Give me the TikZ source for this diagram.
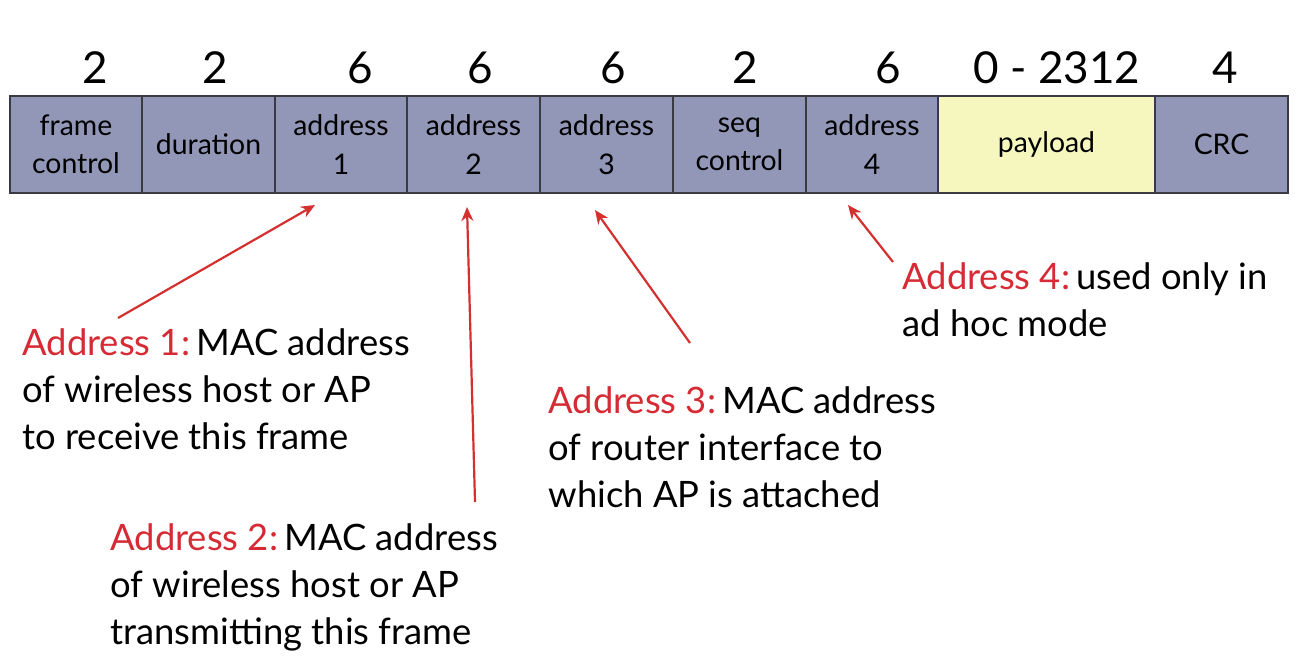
\documentclass[tikz,border=0pt]{standalone}
\usepackage{fontspec}
\setmainfont{Lato}
\usetikzlibrary{arrows.meta}
\definecolor{boxblue}{RGB}{146,151,184}
\definecolor{payyel}{RGB}{246,247,190}
\definecolor{edge}{RGB}{58,58,66}
\definecolor{lblred}{RGB}{214,42,52}
\definecolor{arrred}{RGB}{212,48,48}
\tikzset{
  field/.style={draw=edge, line width=0.8pt, fill=boxblue, minimum height=48.5pt, inner sep=0pt, font=\fontsize{14.2}{19.2}\selectfont, align=center},
  sizenum/.style={font=\fontsize{22}{24}\selectfont, inner sep=0pt, anchor=base},
  note/.style={anchor=base west, inner sep=0pt, font=\fontsize{18.2}{23.5}\selectfont, align=left},
  pointer/.style={draw=arrred, line width=1.1pt, -{Stealth[length=7pt,width=6pt]}},
}
\newcommand{\rd}[1]{\textcolor{lblred}{#1}}
\begin{document}
\begin{tikzpicture}[x=0.5pt,y=-0.5pt]
\useasboundingbox (0,0) rectangle (1300,660);
% fields
\node[field, minimum width=66pt] (fc) at (76,144.5) {frame\\control};
\node[field, minimum width=66.5pt] (du) at (208.5,144.5) {duration};
\node[field, minimum width=66pt] (a1) at (341,144.5) {address\\1};
\node[field, minimum width=66.5pt] (a2) at (473.5,144.5) {address\\2};
\node[field, minimum width=66.5pt] (a3) at (606.5,144.5) {address\\3};
\node[field, minimum width=66.5pt] (sc) at (739.5,144.5) {seq\\control};
\node[field, minimum width=66pt] (a4) at (872,144.5) {address\\4};
\node[field, fill=payyel, minimum width=108.5pt] (pl) at (1046.5,144.5) {payload};
\node[field, minimum width=66.5pt] (crc) at (1221.5,144.5) {CRC};
% sizes
\node[sizenum] (n1) at (95,83) {2};
\node[sizenum] (n2) at (215,83) {2};
\node[sizenum] (n3) at (360,83) {6};
\node[sizenum] (n4) at (480,83) {6};
\node[sizenum] (n5) at (613,83) {6};
\node[sizenum] (n6) at (745,83) {2};
\node[sizenum] (n7) at (888,83) {6};
\node[sizenum] (n8) at (1057,83) {0 - 2312};
\node[sizenum] (n9) at (1225,83) {4};
% notes (base anchor = baseline of last line)
\node[note] (t1) at (22,449) {\rd{Address 1:}\,MAC address\\of wireless host or AP\\to receive this frame};
\node[note] (t2) at (110,644) {\rd{Address 2:}\,MAC address\\of wireless host or AP\\transmitting this frame};
\node[note] (t3) at (548,507) {\rd{Address 3:}\,MAC address\\of router interface to\\which AP is attached};
\node[note] (t4) at (902,336) {\rd{Address 4:}\,used only in\\ad hoc mode};
% arrow anchors
\coordinate (s1) at (118,318); \coordinate (e1) at (315,205);
\coordinate (s2) at (475,502); \coordinate (e2) at (467,207);
\coordinate (s3) at (690,343); \coordinate (e3) at (595,210);
\coordinate (s4) at (893,262); \coordinate (e4) at (848,205);
\draw[pointer] (s1) -- (e1);
\draw[pointer] (s2) -- (e2);
\draw[pointer] (s3) -- (e3);
\draw[pointer] (s4) -- (e4);
\end{tikzpicture}
\end{document}
